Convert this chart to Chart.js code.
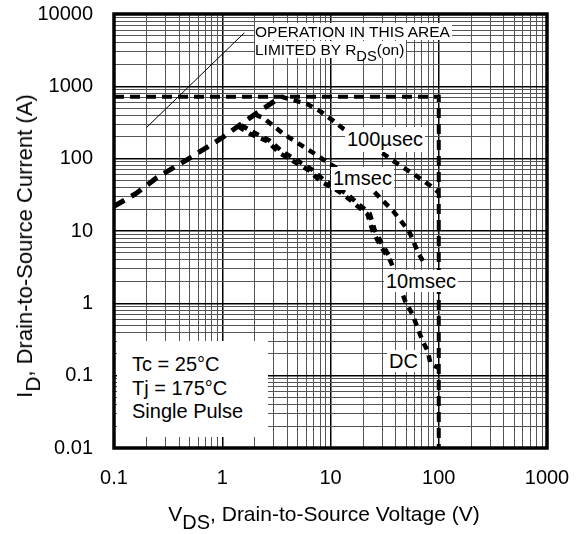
<!DOCTYPE html>
<html>
<head>
<meta charset="utf-8">
<script src="https://cdn.jsdelivr.net/npm/chart.js@4.4.1/dist/chart.umd.min.js"></script>
<style>
  body { margin: 0; background: #fff; }
  #wrap { position: relative; width: 582px; height: 534px; font-family: "Liberation Sans", Arial, sans-serif; color: #000; }
  .box { position: absolute; background: #fff; white-space: nowrap; }
  .lbl { position: absolute; background: #fff; font-size: 20px; padding: 0 2px; white-space: nowrap; }
  sub { font-size: 0.95em; vertical-align: -0.38em; line-height: 0; }
</style>
</head>
<body>
<div id="wrap">
  <canvas id="soa" width="582" height="534"></canvas>

  <div class="box" style="left:255px;top:23px;font-size:15.5px;line-height:18px;background:none">
    <span style="background:#fff;padding-right:2px">OPERATION IN THIS AREA</span><br>
    <span style="background:#fff;padding-right:2px">LIMITED BY R<sub>DS</sub>(on)</span>
  </div>

  <div class="box" style="left:117px;top:341px;width:136px;height:84px;padding:12px 0 0 15px;font-size:20px;line-height:23.5px">
    Tc = 25°C<br>Tj = 175°C<br>Single Pulse
  </div>

  <div class="lbl" style="left:345px;top:127px;line-height:25px">100µsec</div>
  <div class="lbl" style="left:331px;top:167px;line-height:23px">1msec</div>
  <div class="lbl" style="left:384px;top:270px;line-height:22px">10msec</div>
  <div class="lbl" style="left:387px;top:350px;line-height:22px">DC</div>

  <div style="position:absolute;left:324px;top:514px;transform:translate(-50%,-50%);font-size:21px;white-space:nowrap">
    V<sub>DS</sub>, Drain-to-Source Voltage (V)
  </div>
  <div style="position:absolute;left:25px;top:246px;transform:translate(-50%,-50%) rotate(-90deg);font-size:22px;white-space:nowrap">
    I<sub>D</sub>, Drain-to-Source Current (A)
  </div>
</div>

<script>
// tick labels shown on the axes
const xTickLabels = [0.1, 1, 10, 100, 1000];
const yTickLabels = [0.01, 0.1, 1, 10, 100, 1000, 10000];

// RDS(on) limit
const rdsV = [0.1, 0.16, 0.25, 0.5, 1, 1.4, 2, 3.5];
const rdsI = [22, 33, 55, 102, 195, 280, 410, 720];

// package current limit + VDSS limit
const limV = [0.1, 100, 100];
const limI = [720, 720, 0.01];

// 100 usec
const us100V = [3.5, 6.1, 8, 10.7, 13.2, 31, 42, 59, 84, 100];
const us100I = [720, 570, 455, 330, 257, 116, 84, 61, 42, 34];

// 1 msec
const ms1V = [2.0, 2.4, 3.7, 7, 9.6, 25, 38, 53, 65, 76];
const ms1I = [410, 365, 219, 119, 87, 35.6, 18.8, 10, 4.9, 3.3];

// 10 msec
const ms10V = [1.5, 1.9, 2.7, 3.6, 4.8, 6.8, 8.5, 11, 14, 18.5, 23, 25.5, 30, 37];
const ms10I = [290, 235, 180, 125, 97, 70, 52, 41, 33, 23, 17.5, 10.5, 6.5, 3.9];

// DC
const dcV = [1.4, 1.82, 2.6, 3.4, 4.5, 6.5, 8, 10.7, 13.2, 17.8, 22, 24.5, 29, 36, 49, 57, 64, 71, 79, 84, 98];
const dcI = [280, 219, 175, 119, 93, 67, 49, 39, 32, 22, 17, 10, 6.2, 3.8, 1.07, 0.71, 0.45, 0.30, 0.22, 0.145, 0.13];

// pointer from the note to the RDS(on) line
const noteV = [0.2, 1.6];
const noteI = [270, 5500];

const pts = (xs, ys) => xs.map((v, i) => ({ x: v, y: ys[i] }));

function logTicks(min, max) {
    const out = [];
    for (let e = Math.round(Math.log10(min)); e < Math.round(Math.log10(max)); e++) {
        for (let m = 1; m <= 9; m++) out.push(Number((m * Math.pow(10, e)).toPrecision(3)));
    }
    out.push(max);
    return out;
}
const isMajor = v => Math.abs(Math.log10(v) - Math.round(Math.log10(v))) < 1e-9;

const framePlugin = {
    id: 'frame',
    afterDatasetsDraw(chart) {
        const { ctx, chartArea: a } = chart;
        ctx.save();
        ctx.lineWidth = 3.5;
        ctx.strokeStyle = '#000';
        ctx.strokeRect(a.left, a.top, a.right - a.left, a.bottom - a.top);
        ctx.restore();
    }
};

const curve = (data, dash, w) => ({
    data, showLine: true, pointRadius: 0, borderColor: '#000', borderWidth: w,
    borderDash: dash, borderCapStyle: 'butt', fill: false, tension: 0
});

const tickFont = { family: '"Liberation Sans", Arial, sans-serif', size: 20 };
const noPad = s => { s.paddingTop = 0; s.paddingBottom = 0; s.paddingLeft = 0; s.paddingRight = 0; };

new Chart(document.getElementById('soa').getContext('2d'), {
    type: 'scatter',
    data: {
        datasets: [
            curve(pts(noteV, noteI), [], 1),
            curve(pts(rdsV, rdsI), [12, 8], 5),
            curve(pts(limV, limI), [10, 6], 4),
            curve(pts(us100V, us100I), [7, 6], 4.5),
            curve(pts(ms1V, ms1I), [7, 6], 4.5),
            curve(pts(ms10V, ms10I), [7, 6], 4.5),
            curve(pts(dcV, dcI), [7, 6], 4.5)
        ]
    },
    options: {
        responsive: false,
        animation: false,
        layout: { padding: { left: 0, right: 35, top: 14, bottom: 0 } },
        plugins: { legend: { display: false }, tooltip: { enabled: false } },
        scales: {
            x: {
                type: 'logarithmic', min: 0.1, max: 1000,
                afterBuildTicks: s => { s.ticks = logTicks(0.1, 1000).map(v => ({ value: v })); },
                afterFit: s => { s.height = 86; noPad(s); },
                ticks: {
                    autoSkip: false, maxRotation: 0, padding: 18, color: '#000', font: tickFont,
                    callback: v => xTickLabels.find(t => Math.abs(t - v) < t * 1e-6) !== undefined ? String(v) : ''
                },
                grid: {
                    drawTicks: false,
                    color: c => isMajor(c.tick.value) ? '#000' : '#555',
                    lineWidth: c => isMajor(c.tick.value) ? 1.5 : 1
                },
                border: { display: false }
            },
            y: {
                type: 'logarithmic', min: 0.01, max: 10000,
                afterBuildTicks: s => { s.ticks = logTicks(0.01, 10000).map(v => ({ value: v })); },
                afterFit: s => { s.width = 114; noPad(s); },
                ticks: {
                    autoSkip: false, padding: 21, color: '#000', font: tickFont,
                    callback: v => yTickLabels.find(t => Math.abs(t - v) < t * 1e-6) !== undefined ? String(v) : ''
                },
                grid: {
                    drawTicks: false,
                    color: c => isMajor(c.tick.value) ? '#000' : '#555',
                    lineWidth: c => isMajor(c.tick.value) ? 1.5 : 1
                },
                border: { display: false }
            }
        }
    },
    plugins: [framePlugin]
});
</script>
</body>
</html>
